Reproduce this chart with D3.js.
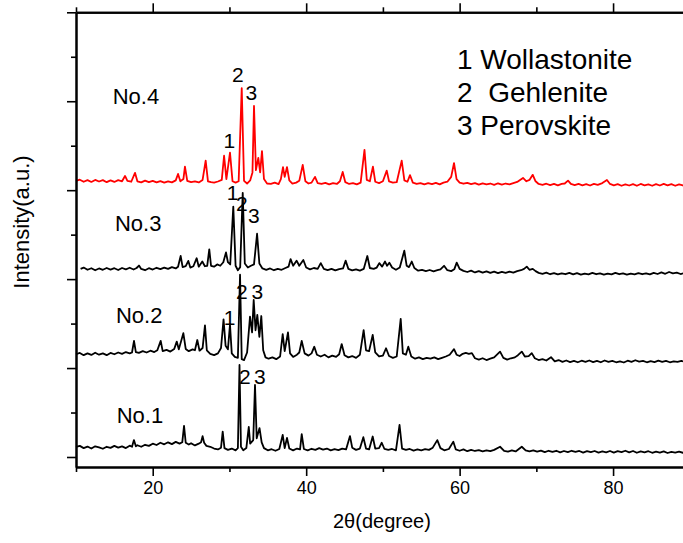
<!DOCTYPE html>
<html><head><meta charset="utf-8">
<script src="https://cdn.jsdelivr.net/npm/d3@7"></script>
<style>body{margin:0;background:#fff}svg{display:block}text{font-family:"Liberation Sans",Arial,sans-serif;fill:#000;white-space:pre}</style>
</head><body><svg id="c" width="683" height="543"></svg>
<script>
// ---- data: [2theta (degree), intensity (counts)] ----
const sampleNames = ["No.1","No.2","No.3","No.4"];
const sampleOffsets = [0, 2000, 4000, 6000];
const sampleColors = ["#000000","#000000","#000000","#ff0000"];

const no1 = [[10.0,225],[10.5,250],[11.0,200],[11.5,235],[12.0,190],[12.5,240],[13.0,215],[13.5,185],[14.0,230],[14.5,205],[15.0,250],[15.5,210],[16.0,240],[16.5,200],[17.0,255],[17.3,230],[17.55,380],[17.8,240],[18.0,265],[18.5,230],[19.0,275],[19.5,250],[20.0,300],[20.5,270],[21.0,320],[21.5,285],[22.0,330],[22.5,290],[23.0,340],[23.5,300],[23.85,330],[24.08,700],[24.3,320],[24.7,280],[25.0,310],[25.5,260],[26.0,300],[26.3,330],[26.5,470],[26.7,320],[27.0,250],[27.5,230],[28.0,190],[28.5,170],[28.9,210],[29.12,570],[29.35,200],[29.8,160],[30.3,190],[30.8,150],[31.1,200],[31.31,2070],[31.5,230],[31.8,150],[32.2,200],[32.52,675],[32.7,300],[33.1,380],[33.33,1620],[33.55,420],[33.92,650],[34.2,330],[34.5,200],[35.0,150],[35.5,175],[36.0,140],[36.5,180],[36.94,495],[37.2,200],[37.5,430],[37.8,190],[38.3,150],[38.8,190],[39.2,170],[39.42,515],[39.7,180],[40.2,150],[40.7,185],[41.2,160],[41.7,200],[42.2,165],[42.7,190],[43.2,150],[43.7,175],[44.2,155],[44.7,190],[45.2,170],[45.71,470],[46.0,210],[46.5,160],[47.0,190],[47.45,445],[47.8,190],[48.2,170],[48.67,460],[49.0,190],[49.5,200],[49.85,320],[50.2,180],[50.7,160],[51.2,180],[51.7,150],[52.17,720],[52.5,190],[53.0,160],[53.5,180],[54.0,145],[54.5,170],[55.0,150],[55.5,175],[56.0,160],[56.5,210],[57.09,380],[57.5,200],[58.0,150],[58.6,180],[59.18,345],[59.5,170],[60.0,140],[60.5,170],[61.0,130],[61.5,160],[62.0,135],[62.5,155],[63.0,125],[63.5,150],[64.0,130],[64.5,160],[65.27,230],[65.8,140],[66.3,120],[66.8,150],[67.3,125],[68.1,230],[68.6,150],[69.1,125],[69.6,150],[70.1,120],[70.6,145],[71.1,110],[71.6,140],[72.1,115],[72.6,140],[73.1,105],[73.6,135],[74.1,110],[74.6,140],[75.1,115],[75.6,135],[76.1,100],[76.6,130],[77.1,110],[77.6,135],[78.1,100],[78.6,125],[79.1,105],[79.6,135],[80.1,100],[80.6,130],[81.1,110],[81.6,140],[82.1,105],[82.6,135],[83.1,95],[83.6,125],[84.1,105],[84.6,130],[85.1,95],[85.6,120],[86.1,100],[86.6,125],[87.1,90],[87.6,115],[88.1,100],[88.6,120],[89.1,95],[89.6,110]];

const no2 = [[10.0,310],[10.5,340],[11.0,290],[11.5,330],[12.0,295],[12.5,345],[13.0,300],[13.5,330],[14.0,290],[14.5,340],[15.0,310],[15.5,350],[16.0,320],[16.5,360],[17.0,330],[17.3,350],[17.56,610],[17.8,360],[18.2,340],[18.7,380],[19.2,350],[19.7,390],[20.2,360],[20.6,400],[21.04,610],[21.3,380],[21.8,410],[22.3,370],[22.8,430],[23.13,595],[23.4,420],[23.99,785],[24.3,430],[24.7,380],[25.2,420],[25.5,400],[25.81,630],[26.1,390],[26.5,450],[26.81,960],[27.05,400],[27.5,320],[28.0,290],[28.5,330],[28.9,450],[29.23,1095],[29.5,500],[29.8,420],[30.07,980],[30.3,330],[30.7,250],[31.1,230],[31.38,2100],[31.6,200],[31.9,180],[32.3,350],[32.68,1155],[32.95,800],[33.16,1530],[33.4,850],[33.63,1195],[33.9,700],[34.15,1170],[34.4,400],[34.7,240],[35.1,210],[35.6,240],[36.1,200],[36.6,260],[36.94,765],[37.2,380],[37.63,800],[37.9,330],[38.3,250],[38.8,300],[39.1,350],[39.42,610],[39.8,330],[40.3,280],[40.7,330],[41.06,480],[41.4,300],[41.9,260],[42.4,300],[42.9,240],[43.4,280],[43.9,250],[44.3,310],[44.63,540],[45.0,290],[45.5,240],[46.0,270],[46.5,230],[47.0,300],[47.49,855],[47.8,400],[48.2,380],[48.67,745],[49.0,350],[49.5,260],[50.0,280],[50.41,445],[50.8,270],[51.3,230],[51.8,260],[52.32,1105],[52.6,330],[53.0,300],[53.31,480],[53.7,260],[54.2,210],[54.7,240],[55.2,200],[55.7,230],[56.2,210],[56.7,240],[57.2,200],[57.7,230],[58.2,260],[58.7,300],[59.27,425],[59.6,300],[60.0,270],[60.4,320],[60.8,340],[61.2,320],[61.6,335],[62.0,220],[62.5,190],[63.0,220],[63.5,180],[64.0,210],[64.5,240],[65.27,370],[65.7,230],[66.2,190],[66.7,220],[67.2,240],[67.6,290],[68.1,370],[68.5,260],[69.0,270],[69.4,335],[69.8,220],[70.3,180],[70.8,200],[71.3,170],[71.91,245],[72.4,150],[72.9,180],[73.4,140],[73.9,170],[74.4,135],[74.9,160],[75.4,130],[75.9,165],[76.4,140],[76.9,170],[77.4,135],[77.9,160],[78.4,130],[78.9,170],[79.4,140],[79.9,160],[80.4,130],[80.9,150],[81.4,125],[81.9,165],[82.4,140],[82.9,175],[83.4,145],[83.9,160],[84.4,130],[84.9,155],[85.4,135],[85.9,165],[86.4,140],[86.9,160],[87.4,130],[87.9,150],[88.4,140],[88.9,160],[89.4,135]];

const no3 = [[10.6,230],[11.0,260],[11.5,210],[12.0,245],[12.5,200],[13.0,240],[13.5,210],[14.0,250],[14.5,215],[15.0,245],[15.5,205],[16.0,250],[16.5,220],[17.0,255],[17.5,215],[17.9,250],[18.21,305],[18.5,230],[19.0,200],[19.5,245],[20.0,215],[20.5,255],[21.0,225],[21.5,260],[22.0,230],[22.5,270],[23.0,240],[23.3,280],[23.64,520],[23.9,270],[24.3,290],[24.64,410],[24.9,260],[25.3,290],[25.73,470],[26.0,280],[26.46,395],[26.8,290],[27.1,300],[27.37,670],[27.6,300],[28.0,280],[28.4,330],[28.8,300],[29.2,380],[29.55,600],[29.8,380],[30.1,330],[30.5,1630],[30.8,300],[31.1,200],[31.4,270],[31.73,1940],[32.0,350],[32.4,260],[32.8,300],[33.2,330],[33.6,1020],[33.9,350],[34.3,240],[34.8,210],[35.3,240],[35.8,200],[36.3,230],[36.8,210],[37.3,250],[37.7,280],[37.97,450],[38.3,300],[38.75,415],[39.1,300],[39.63,430],[40.0,260],[40.5,220],[41.0,250],[41.5,230],[41.9,360],[42.3,230],[42.8,200],[43.3,230],[43.8,195],[44.3,225],[44.8,240],[45.15,415],[45.5,230],[46.0,195],[46.5,220],[47.0,190],[47.5,230],[47.97,520],[48.3,250],[48.8,230],[49.2,260],[49.53,360],[49.9,280],[50.28,395],[50.55,300],[50.84,370],[51.2,260],[51.7,210],[52.2,260],[52.79,640],[53.1,300],[53.4,270],[53.76,395],[54.1,250],[54.6,190],[55.1,210],[55.6,180],[56.1,205],[56.6,175],[57.1,200],[57.5,220],[57.97,300],[58.4,200],[58.9,180],[59.3,220],[59.62,370],[60.0,230],[60.5,185],[61.0,160],[61.5,190],[62.0,150],[62.5,180],[63.0,145],[63.5,175],[64.0,140],[64.5,170],[65.0,135],[65.5,165],[66.0,140],[66.5,170],[67.0,145],[67.5,180],[68.0,200],[68.4,230],[68.75,280],[69.1,210],[69.53,230],[69.9,180],[70.3,140],[70.8,120],[71.3,145],[71.8,110],[72.3,135],[72.8,105],[73.3,130],[73.8,110],[74.3,140],[74.8,105],[75.3,135],[75.8,100],[76.3,125],[76.8,105],[77.3,140],[77.8,110],[78.3,130],[78.8,100],[79.3,125],[79.8,105],[80.3,140],[80.8,110],[81.3,130],[81.8,100],[82.3,125],[82.8,105],[83.3,135],[83.8,110],[84.3,130],[84.8,105],[85.3,140],[85.8,115],[86.3,150],[86.8,120],[87.3,160],[87.8,130],[88.3,145],[88.8,115],[89.3,135]];

const no4 = [[10.0,210],[10.5,235],[11.0,190],[11.5,225],[12.0,185],[12.5,230],[13.0,195],[13.5,225],[14.0,180],[14.5,220],[15.0,185],[15.5,225],[16.0,200],[16.39,320],[16.7,210],[17.2,190],[17.69,390],[18.0,200],[18.5,175],[19.0,215],[19.5,180],[20.0,210],[20.5,175],[21.0,205],[21.5,170],[22.0,200],[22.5,175],[23.0,220],[23.3,365],[23.6,200],[24.0,250],[24.2,530],[24.5,210],[25.0,180],[25.5,200],[26.0,175],[26.5,230],[26.9,665],[27.2,200],[27.6,180],[28.0,170],[28.5,195],[29.0,230],[29.3,775],[29.6,250],[30.07,845],[30.4,200],[30.8,170],[31.2,200],[31.6,2295],[31.9,210],[32.3,150],[32.7,220],[33.0,400],[33.2,1895],[33.45,450],[33.76,725],[34.0,400],[34.24,880],[34.5,250],[34.9,150],[35.4,140],[35.9,170],[36.4,135],[36.7,250],[36.98,520],[37.2,300],[37.5,520],[37.8,220],[38.2,150],[38.7,170],[39.1,210],[39.55,570],[39.9,200],[40.3,150],[40.7,170],[41.15,300],[41.5,160],[42.0,140],[42.5,165],[43.0,130],[43.5,160],[44.0,140],[44.4,200],[44.76,410],[45.1,180],[45.6,140],[46.1,160],[46.6,130],[47.1,170],[47.6,905],[47.9,230],[48.3,200],[48.7,530],[49.0,190],[49.5,160],[50.0,200],[50.5,440],[50.8,200],[51.3,170],[51.8,180],[52.45,665],[52.8,220],[53.2,190],[53.53,340],[53.9,170],[54.4,140],[54.9,160],[55.4,130],[55.9,160],[56.4,135],[56.9,165],[57.4,130],[57.9,170],[58.4,190],[58.9,300],[59.27,610],[59.6,250],[60.0,170],[60.5,145],[61.0,165],[61.5,135],[62.0,160],[62.5,125],[63.0,155],[63.5,130],[64.0,150],[64.5,120],[65.0,155],[65.5,125],[66.0,150],[66.5,130],[67.0,160],[67.5,185],[68.26,275],[68.7,200],[69.1,230],[69.53,345],[69.9,200],[70.3,140],[70.8,120],[71.3,145],[71.8,115],[72.3,140],[72.8,110],[73.3,140],[73.7,150],[74.13,215],[74.5,140],[75.0,115],[75.5,140],[76.0,110],[76.5,135],[77.0,105],[77.5,140],[78.0,120],[78.6,160],[79.2,230],[79.6,140],[80.1,110],[80.6,135],[81.1,100],[81.6,130],[82.1,105],[82.6,135],[83.1,100],[83.6,140],[84.1,110],[84.6,130],[85.1,100],[85.6,135],[86.1,105],[86.6,140],[87.1,110],[87.6,135],[88.1,100],[88.6,130],[89.1,105],[89.6,125]];

const samples = [no1, no2, no3, no4];

// sample name anchors: [2theta, intensity] of label baseline start
const nameAnchors = [[15.3,758],[15.21,3007],[15.08,5090],[14.78,7939]];
// peak markers: [sample index, phase number, 2theta, intensity of label baseline]
const peakLabels = [
  [3,"2",30.33,8434],[3,"3",32.09,8029],[3,"1",29.21,6949],
  [2,"1",29.64,5780],[2,"2",30.86,5539],[2,"3",32.42,5269],
  [1,"1",29.25,2969],[1,"2",30.86,3553],[1,"3",32.88,3553],
  [0,"2",31.25,1642],[0,"3",33.2,1642]
];
const phaseLegend = ["1 Wollastonite","2  Gehlenite","3 Perovskite"];
const xMajorTicks = [20,40,60,80];
const xMinorTicks = [10,30,50,70,90];
const yMajorTicks = [0,2000,4000,6000,8000,10000];
const yMinorTicks = [1000,3000,5000,7000,9000];

// ---- drawing ----
const svg = d3.select("#c");
const x = d3.scaleLinear().domain([10,90]).range([76,689.8]);
const y = d3.scaleLinear().domain([-225,10000]).range([467,12.3]);

const line = d3.line().x(d=>x(d[0])).y(d=>y(d[1]));
samples.forEach((s,i)=>{
  svg.append("path")
    .datum(s.map(d=>[d[0], d[1]+sampleOffsets[i]]))
    .attr("d", line).attr("fill","none")
    .attr("stroke", sampleColors[i]).attr("stroke-width",1.8)
    .attr("stroke-linejoin","round");
});

function styleAxis(g){
  g.selectAll(".domain").attr("stroke","#000").attr("stroke-width",2);
  g.selectAll(".tick line").attr("stroke","#000").attr("stroke-width",1.6);
}
// bottom
svg.append("g").attr("transform",`translate(0,${y(-225)})`)
  .call(d3.axisBottom(x).tickValues(xMajorTicks).tickSize(9).tickSizeOuter(0).tickPadding(5))
  .call(styleAxis)
  .call(g=>g.selectAll("text").attr("font-size",18).style("font-family","Liberation Sans, Arial, sans-serif"));
svg.append("g").attr("transform",`translate(0,${y(-225)})`)
  .call(d3.axisBottom(x).tickValues(xMinorTicks).tickSize(5).tickSizeOuter(0).tickFormat(""))
  .call(styleAxis);
// top
svg.append("g").attr("transform",`translate(0,${y(10000)})`)
  .call(d3.axisTop(x).tickValues(xMajorTicks).tickSize(9).tickSizeOuter(0).tickFormat(""))
  .call(styleAxis);
svg.append("g").attr("transform",`translate(0,${y(10000)})`)
  .call(d3.axisTop(x).tickValues(xMinorTicks).tickSize(5).tickSizeOuter(0).tickFormat(""))
  .call(styleAxis);
// left
svg.append("g").attr("transform",`translate(${x(10)},0)`)
  .call(d3.axisLeft(y).tickValues(yMajorTicks).tickSize(9).tickSizeOuter(0).tickFormat(""))
  .call(styleAxis);
svg.append("g").attr("transform",`translate(${x(10)},0)`)
  .call(d3.axisLeft(y).tickValues(yMinorTicks).tickSize(5).tickSizeOuter(0).tickFormat(""))
  .call(styleAxis);

// sample names
sampleNames.forEach((n,i)=>{
  svg.append("text").attr("x",x(nameAnchors[i][0])).attr("y",y(nameAnchors[i][1]))
    .attr("font-size",22).text(n);
});
// peak labels
peakLabels.forEach(p=>{
  svg.append("text").attr("x",x(p[2])).attr("y",y(p[3]))
    .attr("font-size",21).text(p[1]);
});
// legend
phaseLegend.forEach((t,i)=>{
  svg.append("text").attr("x",457).attr("y",69+i*33).attr("font-size",28).text(t);
});
// axis titles
svg.append("text").attr("x",333).attr("y",528).attr("font-size",20).text("2θ(degree)");
svg.append("text").attr("transform","translate(29,222) rotate(-90)")
  .attr("text-anchor","middle").attr("font-size",22).text("Intensity(a.u.)");
</script></body></html>
